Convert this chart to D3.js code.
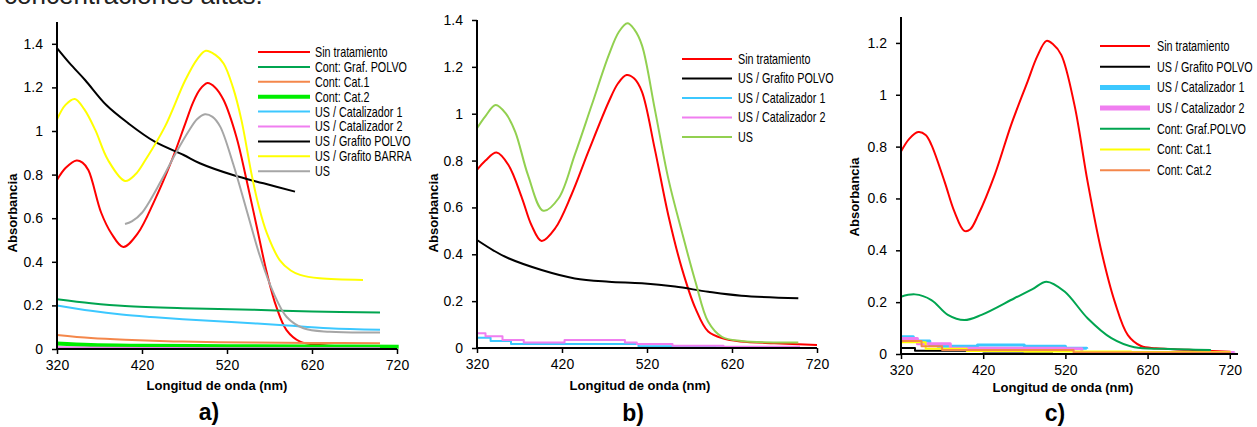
<!DOCTYPE html>
<html>
<head>
<meta charset="utf-8">
<script src="https://cdn.jsdelivr.net/npm/d3@7"></script>
<style>
  body { margin: 0; background: #fff; }
  svg { display: block; }
  .tick text { font-family: "Liberation Sans", Arial, sans-serif; font-size: 14px; fill: #000; }
  .legend text { font-family: "Liberation Sans", Arial, sans-serif; font-size: 14px; fill: #000; }
  .title { font-family: "Liberation Sans", Arial, sans-serif; font-weight: bold; font-size: 13px; fill: #000; }
  .tag { font-family: "Liberation Sans", Arial, sans-serif; font-weight: bold; font-size: 23px; fill: #000; }
</style>
</head>
<body>
<svg id="chart" width="1257" height="427"></svg>
<script>
// longitudes de onda en nm, absorbancia
const xTicks = [320, 420, 520, 620, 720]
const yTicksA = [0, 0.2, 0.4, 0.6, 0.8, 1, 1.2, 1.4]
const yTicksB = [0, 0.2, 0.4, 0.6, 0.8, 1, 1.2, 1.4]
const yTicksC = [0, 0.2, 0.4, 0.6, 0.8, 1, 1.2]

// a)
const aSinTratamiento = [[320, 0.775], [330, 0.83], [343, 0.865], [350, 0.855], [357, 0.82], [372, 0.625], [384, 0.53], [398, 0.468], [415, 0.53], [435, 0.683], [455, 0.865], [471, 1.035], [480, 1.13], [488, 1.19], [497, 1.22], [506, 1.2], [516, 1.142], [531, 0.974], [543, 0.775], [555, 0.561], [567, 0.347], [578, 0.194], [590, 0.087], [606, 0.034], [629, 0.018], [660, 0.012], [720, 0.01]]
const aContGrafPolvo = [[320, 0.228], [360, 0.21], [400, 0.197], [468, 0.187], [550, 0.18], [620, 0.172], [700, 0.168]]
const aContCat1 = [[320, 0.064], [360, 0.05], [400, 0.042], [468, 0.034], [550, 0.03], [620, 0.028], [700, 0.026]]
const aContCat2 = [[320, 0.025], [360, 0.018], [420, 0.015], [520, 0.013], [620, 0.012], [722, 0.01]]
const aUsCat1 = [[320, 0.2], [360, 0.175], [396, 0.158], [430, 0.147], [468, 0.137], [520, 0.125], [582, 0.11], [640, 0.095], [700, 0.088]]
const aUsCat2 = [[320, 0.008], [420, 0.005], [520, 0.004], [700, 0.003]]
const aUsGrafPolvo = [[320, 1.38], [335, 1.31], [353, 1.234], [378, 1.119], [404, 1.035], [435, 0.951], [469, 0.89], [488, 0.852], [527, 0.798], [563, 0.76], [600, 0.722]]
const aUsGrafBarra = [[320, 1.053], [330, 1.12], [341, 1.147], [352, 1.1], [365, 1.005], [380, 0.867], [400, 0.771], [412, 0.8], [424, 0.867], [447, 1.02], [471, 1.234], [485, 1.33], [495, 1.368], [506, 1.35], [516, 1.31], [527, 1.2], [537, 1.05], [549, 0.8], [557, 0.66], [567, 0.53], [582, 0.408], [595, 0.36], [606, 0.34], [629, 0.324], [680, 0.317]]
const aUs = [[400, 0.573], [408, 0.585], [420, 0.625], [443, 0.775], [460, 0.9], [475, 1.0], [485, 1.055], [494, 1.077], [503, 1.065], [512, 1.02], [527, 0.852], [543, 0.638], [559, 0.423], [575, 0.255], [590, 0.148], [610, 0.095], [641, 0.079], [700, 0.076]]

// b)
const bSinTratamiento = [[320, 0.76], [330, 0.8], [343, 0.834], [357, 0.781], [373, 0.639], [384, 0.525], [396, 0.457], [412, 0.511], [431, 0.653], [451, 0.838], [475, 1.051], [486, 1.13], [496, 1.165], [505, 1.15], [514, 1.094], [529, 0.852], [545, 0.568], [561, 0.34], [577, 0.169], [592, 0.07], [610, 0.04], [630, 0.028], [670, 0.02], [720, 0.013]]
const bUsGrafPolvo = [[320, 0.461], [340, 0.415], [357, 0.383], [396, 0.333], [435, 0.297], [475, 0.283], [514, 0.276], [553, 0.262], [592, 0.24], [631, 0.223], [698, 0.212]]
const bUsCat1 = [[320, 0.044], [336, 0.03], [360, 0.017], [510, 0.007], [600, 0.003], [700, 0.003]]
const bUsCat2 = [[320, 0.063], [330, 0.05], [350, 0.034], [375, 0.024], [423, 0.034], [494, 0.024], [508, 0.017], [550, 0.01], [610, 0.005], [700, 0.005]]
const bUs = [[320, 0.938], [330, 0.99], [342, 1.037], [354, 1.0], [365, 0.923], [380, 0.738], [398, 0.586], [416, 0.639], [435, 0.824], [455, 1.037], [475, 1.25], [487, 1.35], [497, 1.386], [505, 1.36], [514, 1.293], [529, 1.023], [545, 0.724], [561, 0.496], [577, 0.283], [592, 0.112], [608, 0.048], [631, 0.03], [698, 0.024]]

// c)
const cSinTratamiento = [[320, 0.781], [330, 0.83], [341, 0.856], [350, 0.845], [357, 0.807], [373, 0.665], [385, 0.549], [397, 0.475], [404, 0.48], [414, 0.537], [434, 0.691], [454, 0.884], [474, 1.051], [486, 1.15], [497, 1.208], [505, 1.195], [515, 1.154], [531, 0.961], [547, 0.665], [563, 0.408], [580, 0.202], [596, 0.073], [612, 0.031], [630, 0.022], [670, 0.016], [721, 0.009]]
const cUsGrafPolvo = [[320, 0.023], [337, 0.013], [420, 0.01], [505, 0.008]]
const cUsCat1 = [[320, 0.067], [335, 0.05], [355, 0.035], [365, 0.03], [413, 0.035], [470, 0.03], [520, 0.022], [546, 0.02]]
const cUsCat2 = [[320, 0.06], [340, 0.04], [380, 0.022], [520, 0.02], [540, 0.006], [725, 0.005]]
const cContGrafPolvo = [[320, 0.221], [337, 0.23], [357, 0.208], [377, 0.151], [397, 0.131], [418, 0.151], [458, 0.215], [480, 0.25], [497, 0.279], [519, 0.241], [547, 0.138], [576, 0.061], [604, 0.026], [640, 0.02], [697, 0.015]]
const cContCat1 = [[320, 0.045], [350, 0.02], [400, 0.012], [470, 0.01], [600, 0.008], [720, 0.005]]
const cContCat2 = [[320, 0.05], [345, 0.03], [370, 0.015], [515, 0.015], [530, 0.006], [720, 0.004]]

const fmt = d => String(+d.toFixed(1))
const svg = d3.select('#chart')

// texto cortado del documento original
svg.append('text')
  .attr('x', 4).attr('y', 4)
  .style('font-family', '"Liberation Sans", Arial, sans-serif')
  .style('font-size', '26px')
  .attr('fill', '#222')
  .text('concentraciones altas.')

function drawPanel(p) {
  const x = d3.scaleLinear().domain(p.xDomain).range(p.xRange)
  const y = d3.scaleLinear().domain(p.yDomain).range(p.yRange)
  const g = svg.append('g')

  const line = d3.line()
    .x(d => x(d[0]))
    .y(d => y(d[1]))

  g.selectAll('path.serie')
    .data(p.series)
    .join('path')
    .attr('class', 'serie')
    .attr('fill', 'none')
    .attr('stroke', s => s.color)
    .attr('stroke-width', s => s.width || 2)
    .attr('stroke-linejoin', 'round')
    .attr('d', s => line.curve(s.step ? d3.curveStepAfter : d3.curveCatmullRom.alpha(0.5))(s.data))

  // ejes
  const xAxis = g.append('g')
    .attr('transform', `translate(0,${p.yRange[0]})`)
    .call(d3.axisBottom(x).tickValues(xTicks).tickSize(5).tickPadding(6).tickFormat(d3.format('d')))
  const yAxis = g.append('g')
    .attr('transform', `translate(${p.xRange[0]},0)`)
    .call(d3.axisLeft(y).tickValues(p.yTicks).tickSize(5).tickPadding(9).tickFormat(fmt))
  ;[xAxis, yAxis].forEach((ax) => {
    ax.select('.domain').attr('stroke', '#000').attr('stroke-width', 2)
    ax.selectAll('.tick line').attr('stroke', '#000').attr('stroke-width', 1.5)
  })
  yAxis.select('.domain').attr('d', `M0,${p.yRange[0]}V${p.yRange[1]}`)
  xAxis.select('.domain').attr('d', `M${p.xRange[0]},0H${p.xRange[1]}`)

  g.append('text')
    .attr('class', 'title')
    .attr('x', p.xTitle[0]).attr('y', p.xTitle[1])
    .attr('text-anchor', 'middle')
    .text('Longitud de onda (nm)')
  g.append('text')
    .attr('class', 'title')
    .attr('transform', `translate(${p.yTitle[0]},${p.yTitle[1]}) rotate(-90)`)
    .attr('text-anchor', 'middle')
    .text('Absorbancia')
  g.append('text')
    .attr('class', 'tag')
    .attr('x', p.tag[0]).attr('y', p.tag[1])
    .attr('text-anchor', 'middle')
    .text(p.label)

  // leyenda (texto estrecho como Arial Narrow)
  const legend = g.append('g').attr('class', 'legend')
  const rows = legend.selectAll('g')
    .data(p.legendOrder.map(i => p.series[i]))
    .join('g')
    .attr('transform', (s, i) => `translate(${p.legend.x},${p.legend.y + i * p.legend.dy})`)
  rows.append('line')
    .attr('x1', 0).attr('x2', p.legend.len)
    .attr('stroke', s => s.color)
    .attr('stroke-width', s => s.legendWidth || s.width || 2)
  rows.append('text')
    .attr('transform', `translate(${p.legend.len + p.legend.gap},0) scale(0.77,1)`)
    .attr('dy', '0.35em')
    .text(s => s.name)
}

drawPanel({
  label: 'a)',
  xDomain: [320, 720], xRange: [57, 397],
  yDomain: [0, 1.5], yRange: [349, 22],
  yTicks: yTicksA,
  xTitle: [217, 390], yTitle: [17, 213], tag: [209, 420],
  legend: { x: 258, y: 52, dy: 14.9, len: 52, gap: 5 },
  legendOrder: [0, 1, 2, 3, 4, 5, 6, 7, 8],
  series: [
    { name: 'Sin tratamiento', color: '#ff0000', data: aSinTratamiento },
    { name: 'Cont: Graf. POLVO', color: '#00a550', data: aContGrafPolvo },
    { name: 'Cont: Cat.1', color: '#f4874b', data: aContCat1 },
    { name: 'Cont: Cat.2', color: '#00ee00', width: 4, data: aContCat2 },
    { name: 'US / Catalizador 1', color: '#3cc8ff', data: aUsCat1 },
    { name: 'US / Catalizador 2', color: '#f07ef0', data: aUsCat2 },
    { name: 'US / Grafito POLVO', color: '#000000', data: aUsGrafPolvo },
    { name: 'US / Grafito BARRA', color: '#ffff00', data: aUsGrafBarra },
    { name: 'US', color: '#a6a6a6', data: aUs },
  ],
})

drawPanel({
  label: 'b)',
  xDomain: [320, 720], xRange: [477, 817],
  yDomain: [0, 1.4], yRange: [348, 20],
  yTicks: yTicksB,
  xTitle: [640, 390], yTitle: [438, 213], tag: [633, 421],
  legend: { x: 682, y: 59, dy: 19.5, len: 50, gap: 6 },
  legendOrder: [0, 1, 2, 3, 4],
  series: [
    { name: 'Sin tratamiento', color: '#ff0000', data: bSinTratamiento },
    { name: 'US /  Grafito POLVO', color: '#000000', data: bUsGrafPolvo },
    { name: 'US / Catalizador 1', color: '#3cc8ff', step: true, data: bUsCat1 },
    { name: 'US / Catalizador 2', color: '#f07ef0', step: true, data: bUsCat2 },
    { name: 'US', color: '#92d050', data: bUs },
  ],
})

drawPanel({
  label: 'c)',
  xDomain: [320, 730], xRange: [901, 1238],
  yDomain: [0, 1.3], yRange: [354, 17],
  yTicks: yTicksC,
  xTitle: [1063, 392], yTitle: [859, 197], tag: [1055, 421],
  legend: { x: 1100, y: 46, dy: 20.7, len: 50, gap: 7 },
  legendOrder: [0, 1, 2, 3, 4, 5, 6],
  series: [
    { name: 'Sin tratamiento', color: '#ff0000', data: cSinTratamiento },
    { name: 'US /  Grafito POLVO', color: '#000000', step: true, data: cUsGrafPolvo },
    { name: 'US / Catalizador 1', color: '#3cc8ff', width: 3, legendWidth: 5, step: true, data: cUsCat1 },
    { name: 'US / Catalizador 2', color: '#f07ef0', width: 3, legendWidth: 5, step: true, data: cUsCat2 },
    { name: 'Cont: Graf.POLVO', color: '#00a550', data: cContGrafPolvo },
    { name: 'Cont: Cat.1', color: '#ffff00', step: true, data: cContCat1 },
    { name: 'Cont: Cat.2', color: '#f4874b', step: true, data: cContCat2 },
  ],
})
</script>
</body>
</html>
